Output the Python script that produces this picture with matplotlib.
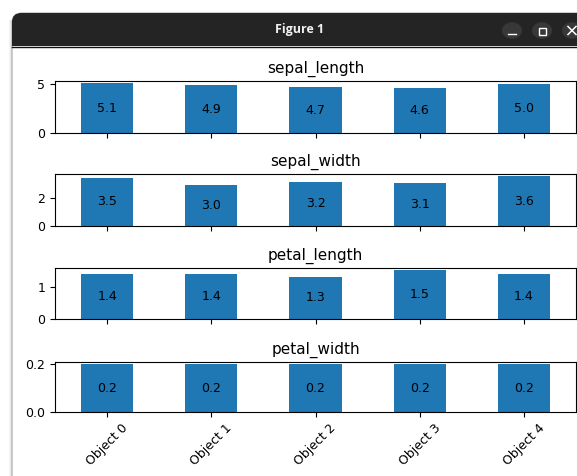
import matplotlib
matplotlib.use("Agg")
import matplotlib.pyplot as plt
from matplotlib.patches import FancyBboxPatch, Rectangle, Circle
from matplotlib.lines import Line2D

# First five iris samples
objects = ["Object 0", "Object 1", "Object 2", "Object 3", "Object 4"]
sepal_length = [5.1, 4.9, 4.7, 4.6, 5.0]
sepal_width = [3.5, 3.0, 3.2, 3.1, 3.6]
petal_length = [1.4, 1.4, 1.3, 1.5, 1.4]
petal_width = [0.2, 0.2, 0.2, 0.2, 0.2]

series = [
    ("sepal_length", sepal_length, [0, 5], ["0", "5"]),
    ("sepal_width", sepal_width, [0, 2], ["0", "2"]),
    ("petal_length", petal_length, [0, 1], ["0", "1"]),
    ("petal_width", petal_width, [0.0, 0.2], ["0.0", "0.2"]),
]

W, H = 577, 476
fig = plt.figure(figsize=(W / 100, H / 100), dpi=100)
fig.patch.set_facecolor("white")


def px_box(x0, y0, x1, y1):
    """Convert a pixel box (origin top-left) to figure fractions."""
    return [x0 / W, 1 - y1 / H, (x1 - x0) / W, (y1 - y0) / H]


# --- window frame ---
# soft shadow to the left of the window
for i, a in enumerate([0.05, 0.08, 0.12]):
    fig.add_artist(Rectangle(((9 + i) / W, 0), 1 / W, (H - 20) / H,
                             transform=fig.transFigure, facecolor="black",
                             alpha=a, edgecolor="none", zorder=0))
# window body
fig.add_artist(FancyBboxPatch((12 / W, -0.1), 1.2, (H - 13) / H + 0.1,
                              boxstyle="round,pad=0,rounding_size=0.018",
                              transform=fig.transFigure, facecolor="white",
                              edgecolor="#b8b8b8", linewidth=1.0, zorder=1,
                              mutation_aspect=W / H))
# title bar
fig.add_artist(FancyBboxPatch((12 / W, (H - 46) / H), 1.2, 33 / H,
                              boxstyle="round,pad=0,rounding_size=0.016",
                              transform=fig.transFigure, facecolor="#242424",
                              edgecolor="none", zorder=2,
                              mutation_aspect=W / H))
fig.add_artist(Rectangle((12 / W, (H - 46) / H), 1.2, 12 / H,
                         transform=fig.transFigure, facecolor="#242424",
                         edgecolor="none", zorder=2))
fig.add_artist(Line2D([12 / W, 1], [(H - 46.5) / H] * 2,
                      transform=fig.transFigure, color="#111111",
                      linewidth=1.0, zorder=3))
fig.text(300 / W, 1 - 30 / H, "Figure 1", ha="center", va="center",
         color="#f0f0f0", fontsize=9, fontweight="bold",
         family="Open Sans", zorder=4)

# window buttons
cy = 1 - 30.5 / H
for cx in (512, 542, 572):
    fig.add_artist(Circle((cx / W, cy), 10 / W, transform=fig.transFigure,
                          facecolor="#383838", edgecolor="none", zorder=3))
# minimize
fig.add_artist(Line2D([508 / W, 516 / W], [(H - 34) / H] * 2,
                      transform=fig.transFigure, color="white",
                      linewidth=1.0, zorder=4))
# maximize
fig.add_artist(Rectangle((538.5 / W, (H - 34.5) / H), 7 / W, 7 / H,
                         transform=fig.transFigure, facecolor="none",
                         edgecolor="white", linewidth=1.0, zorder=4))
# close
fig.add_artist(Line2D([568 / W, 576 / W], [(H - 26.5) / H, (H - 34.5) / H],
                      transform=fig.transFigure, color="white",
                      linewidth=1.1, zorder=4))
fig.add_artist(Line2D([568 / W, 576 / W], [(H - 34.5) / H, (H - 26.5) / H],
                      transform=fig.transFigure, color="white",
                      linewidth=1.1, zorder=4))

# --- subplots ---
panels = [(81, 133), (174, 226), (268, 319), (362, 412)]
x = list(range(len(objects)))

for idx, ((name, values, yt, ytl), (top, bottom)) in enumerate(zip(series, panels)):
    ax = fig.add_axes(px_box(55, top, 576, bottom), zorder=5)
    bars = ax.bar(x, values, width=0.5, color="#1f77b4")
    ax.bar_label(bars, labels=[f"{v:.1f}" for v in values],
                 label_type="center", fontsize=9)
    ax.set_xlim(-0.5, len(objects) - 0.5)
    ax.set_ylim(0, max(values) * 1.05)
    ax.set_yticks(yt)
    ax.set_yticklabels(ytl)
    ax.set_title(name, fontsize=11, pad=6)
    ax.set_xticks(x)
    if idx == len(series) - 1:
        ax.set_xticklabels(objects, rotation=45, ha="center")
    else:
        ax.set_xticklabels([])
    ax.tick_params(labelsize=9)

fig.savefig("out.png", dpi=100)
